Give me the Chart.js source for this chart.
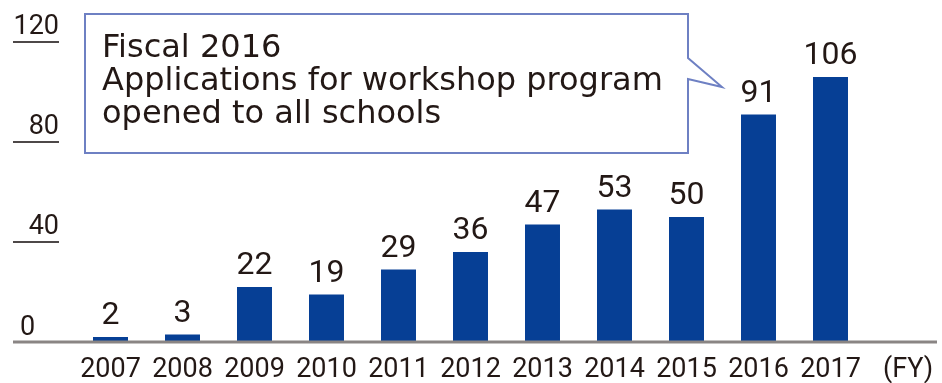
<!DOCTYPE html>
<html>
<head>
<meta charset="utf-8">
<script src="https://cdn.jsdelivr.net/npm/chart.js@4.4.1/dist/chart.umd.min.js"></script>
<style>
  html, body { margin: 0; padding: 0; background: #fff; }
  #wrap { width: 942px; height: 383px; }
</style>
</head>
<body>
<div id="wrap"><canvas id="workshopChart"></canvas></div>
<script>
// schools taking part, by fiscal year
const years = ['2007', '2008', '2009', '2010', '2011', '2012', '2013', '2014', '2015', '2016', '2017'];
const schools = [2, 3, 22, 19, 29, 36, 47, 53, 50, 91, 106];
const yTicks = [0, 40, 80, 120];
const unitLabel = '(FY)';
const noteLines = ['Fiscal 2016', 'Applications for workshop program', 'opened to all schools'];

const textColor = '#231815';
const barColor = '#063f95';

// underlined y ticks, base line, year labels, value labels
const axisDecor = {
    id: 'axisDecor',
    afterDatasetsDraw(chart) {
        const { ctx, scales: { x, y } } = chart;
        const base = y.getPixelForValue(0);
        ctx.save();

        ctx.strokeStyle = '#8a8584';
        ctx.lineWidth = 3;
        ctx.beginPath();
        ctx.moveTo(13, base);
        ctx.lineTo(937, base);
        ctx.stroke();

        ctx.fillStyle = textColor;
        ctx.font = '27px Roboto';
        ctx.textBaseline = 'alphabetic';
        yTicks.forEach(v => {
            const py = y.getPixelForValue(v);
            if (v > 0) {
                ctx.strokeStyle = '#4d4848';
                ctx.lineWidth = 2;
                ctx.beginPath();
                ctx.moveTo(13, py);
                ctx.lineTo(59, py);
                ctx.stroke();
                ctx.textAlign = 'right';
                ctx.fillText(String(v), 59, py - 8);
            } else {
                ctx.textAlign = 'left';
                ctx.fillText(String(v), 20, py - 7);
            }
        });

        // year labels under the bars
        ctx.textAlign = 'center';
        years.forEach((yr, i) => {
            ctx.fillText(yr, x.getPixelForTick(i), base + 35);
        });
        ctx.textAlign = 'left';
        ctx.fillText(unitLabel, 883, base + 35);

        // values over the bars
        ctx.font = '32px Roboto';
        ctx.textAlign = 'center';
        chart.getDatasetMeta(0).data.forEach((bar, i) => {
            ctx.fillText(String(schools[i]), bar.x, bar.y - 13);
        });

        // callout box
        ctx.beginPath();
        ctx.moveTo(85, 14);
        ctx.lineTo(688, 14);
        ctx.lineTo(688, 58);
        ctx.lineTo(722, 87);
        ctx.lineTo(688, 79);
        ctx.lineTo(688, 153);
        ctx.lineTo(85, 153);
        ctx.closePath();
        ctx.fillStyle = '#fff';
        ctx.fill();
        ctx.strokeStyle = '#6e80c3';
        ctx.lineWidth = 2;
        ctx.stroke();

        ctx.fillStyle = textColor;
        ctx.font = '32px "DejaVu Sans"';
        ctx.textAlign = 'left';
        noteLines.forEach((line, i) => {
            ctx.fillText(line, 102, 57 + i * 33);
        });

        ctx.restore();
    }
};

new Chart(document.getElementById('workshopChart'), {
    type: 'bar',
    data: {
        labels: years,
        datasets: [{
            data: schools,
            backgroundColor: barColor,
            barPercentage: 0.486,
            categoryPercentage: 1
        }]
    },
    options: {
        responsive: true,
        maintainAspectRatio: false,
        animation: false,
        layout: { padding: { left: 74.5, right: 75.5, top: 42, bottom: 41 } },
        plugins: { legend: { display: false }, tooltip: { enabled: false } },
        scales: {
            x: { display: false, offset: true },
            y: { display: false, min: 0, max: 120 }
        }
    },
    plugins: [axisDecor]
});
</script>
</body>
</html>
